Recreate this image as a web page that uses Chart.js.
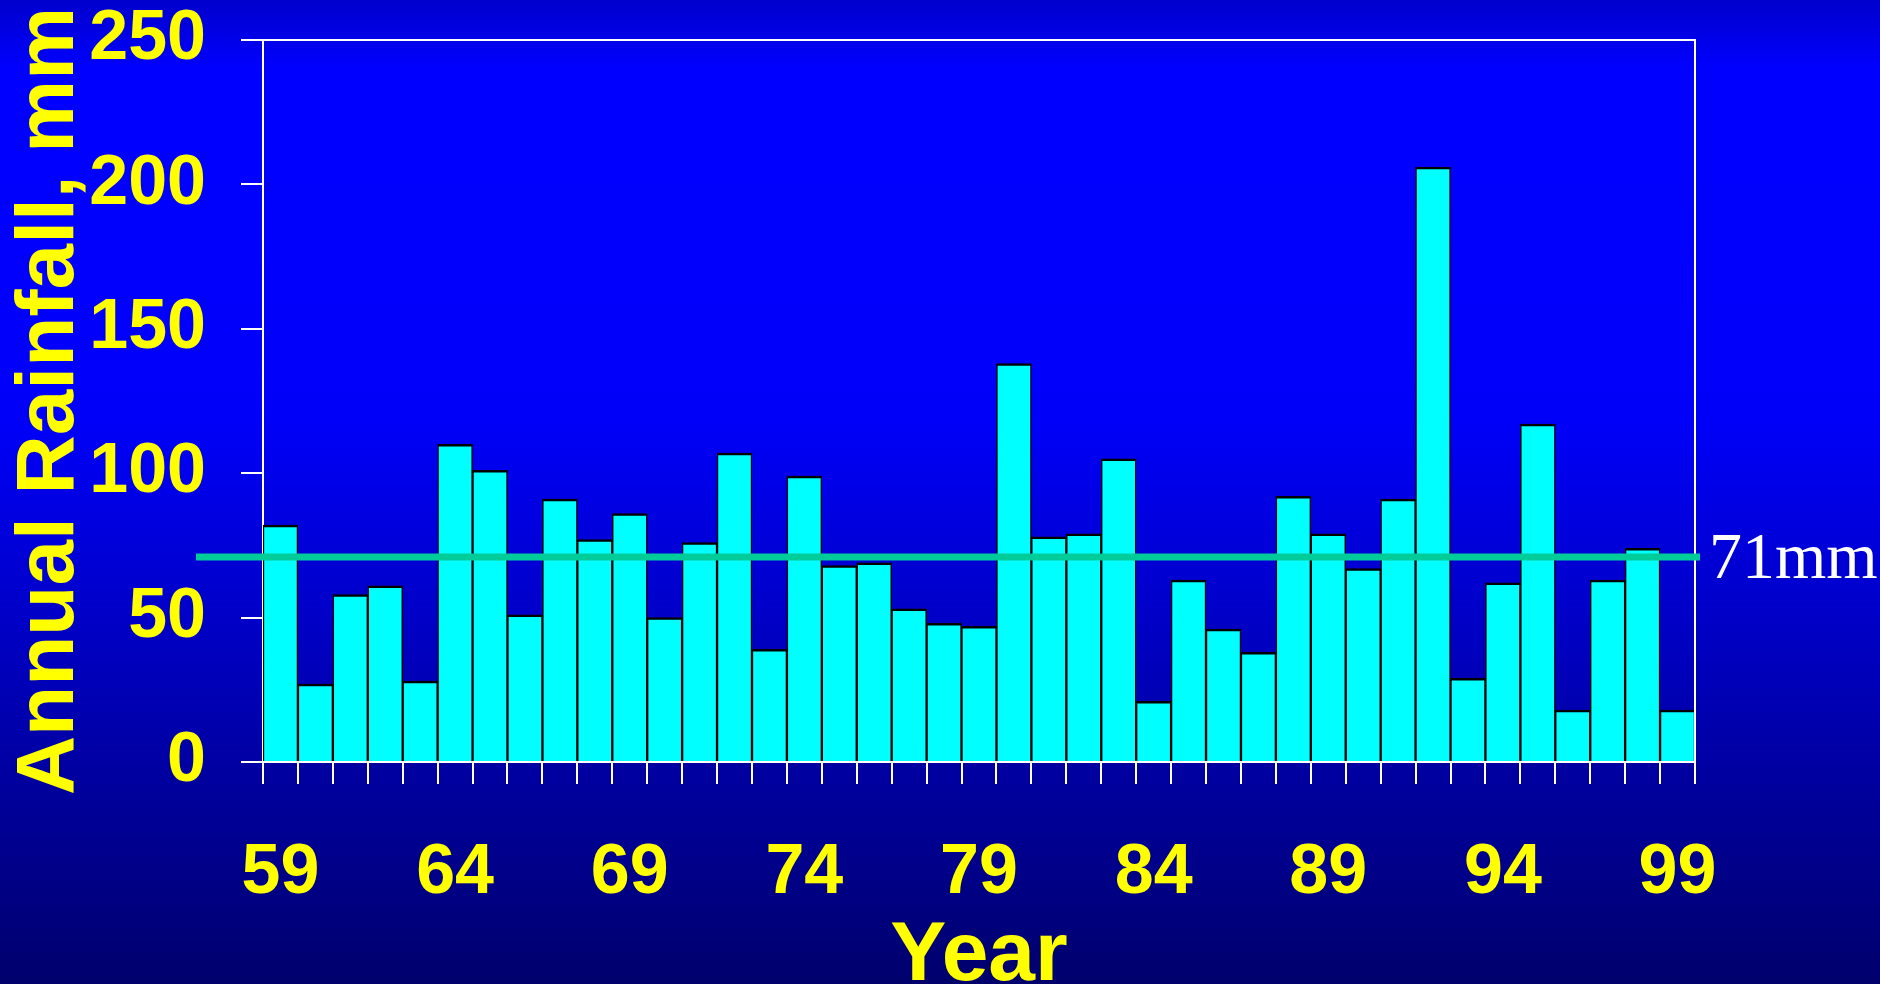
<!DOCTYPE html>
<html>
<head>
<meta charset="utf-8">
<style>
  html, body { margin: 0; padding: 0; background: #00006C; overflow: hidden; }
  canvas { display: block; }
</style>
<script src="https://cdn.jsdelivr.net/npm/chart.js@4"></script>
</head>
<body>
<canvas id="c" width="1880" height="984"></canvas>
<script>
// ---- data ----
const years = ['59','60','61','62','63','64','65','66','67','68','69','70','71','72','73','74','75','76','77','78','79',
               '80','81','82','83','84','85','86','87','88','89','90','91','92','93','94','95','96','97','98','99'];
const rainfall = [82,27,58,61,28,110,101,51,91,77,86,50,76,107,39,99,68,69,53,48,47,
                  138,78,79,105,21,63,46,38,92,79,67,91,206,29,62,117,18,63,74,18];
const xTickLabels = ['59','64','69','74','79','84','89','94','99'];
const yTicks = [0,50,100,150,200,250];
const meanValue = [71];
const meanLabel = ['71mm'];
const xTitle = 'Year';
const yTitle = 'Annual Rainfall, mm';

// ---- plugins ----
const bgPlugin = {
  id: 'bg',
  beforeDraw(chart) {
    const {ctx, width, height} = chart;
    const g = ctx.createLinearGradient(0, 0, 0, height);
    g.addColorStop(0, '#0000CC');
    g.addColorStop(0.07, '#0000FF');
    g.addColorStop(0.42, '#0000FA');
    g.addColorStop(1, '#00006C');
    ctx.save();
    ctx.fillStyle = g;
    ctx.fillRect(0, 0, width, height);
    ctx.restore();
  }
};

const overlayPlugin = {
  id: 'overlay',
  afterDraw(chart) {
    const {ctx, chartArea: a, scales: {y}} = chart;
    ctx.save();
    ctx.strokeStyle = '#FFFFFF';
    ctx.lineWidth = 2;
    ctx.beginPath();
    ctx.moveTo(a.left, a.top);
    ctx.lineTo(a.right, a.top);
    ctx.lineTo(a.right, a.bottom);
    ctx.stroke();
    const yy = y.getPixelForValue(meanValue[0]);
    ctx.strokeStyle = '#00CC99';
    ctx.lineWidth = 7;
    ctx.beginPath();
    ctx.moveTo(a.left - 67, yy);
    ctx.lineTo(a.right + 5, yy);
    ctx.stroke();
    ctx.fillStyle = '#FFFFFF';
    ctx.font = '66px "Liberation Serif", "Times New Roman", serif';
    ctx.textAlign = 'left';
    ctx.textBaseline = 'middle';
    ctx.fillText(meanLabel[0], a.right + 14, yy + 4);
    ctx.restore();
  }
};

const yellowFont = (size, lh) => ({ family: '"Liberation Sans", Arial, sans-serif', size: size, weight: 'bold', lineHeight: lh });

new Chart(document.getElementById('c'), {
  type: 'bar',
  data: {
    labels: years,
    datasets: [{
      data: rainfall,
      backgroundColor: '#00FFFF',
      borderColor: '#000000',
      borderWidth: { top: 2.5, left: 1.5, right: 1.5, bottom: 0 },
      barPercentage: 1.0,
      categoryPercentage: 1.0
    }]
  },
  options: {
    responsive: false,
    devicePixelRatio: 1,
    animation: false,
    layout: { padding: { top: 40, right: 185, left: 0, bottom: 0 } },
    plugins: { legend: { display: false }, tooltip: { enabled: false } },
    scales: {
      x: {
        z: 1,
        afterFit(scale) { scale.height = 222; scale.paddingLeft = 0; scale.paddingRight = 0; },
        grid: { display: true, offset: true, drawOnChartArea: false, drawTicks: true, tickLength: 22, color: '#FFFFFF', lineWidth: 2 },
        border: { display: true, color: '#FFFFFF', width: 2 },
        ticks: {
          autoSkip: false, maxRotation: 0, minRotation: 0, padding: 48,
          color: '#FFFF00', font: yellowFont(70, 1.2),
          callback: function(v, i) { const l = years[i]; return xTickLabels.includes(l) ? l : ''; }
        },
        title: { display: true, text: xTitle, color: '#FFFF00', font: yellowFont(84, 0.64), padding: { top: 0, bottom: 0 } }
      },
      y: {
        z: 1,
        min: yTicks[0], max: yTicks[yTicks.length - 1],
        afterFit(scale) { scale.width = 263; scale.paddingTop = 0; scale.paddingBottom = 0; },
        grid: { display: true, drawOnChartArea: false, drawTicks: true, tickLength: 22, color: '#FFFFFF', lineWidth: 2 },
        border: { display: true, color: '#FFFFFF', width: 2 },
        ticks: {
          stepSize: yTicks[1] - yTicks[0], padding: 35,
          color: '#FFFF00', font: yellowFont(70, 1.2)
        },
        title: { display: true, text: yTitle, color: '#FFFF00', font: yellowFont(82, 1), padding: { top: 9, bottom: 0 } }
      }
    }
  },
  plugins: [bgPlugin, overlayPlugin]
});
</script>
</body>
</html>
